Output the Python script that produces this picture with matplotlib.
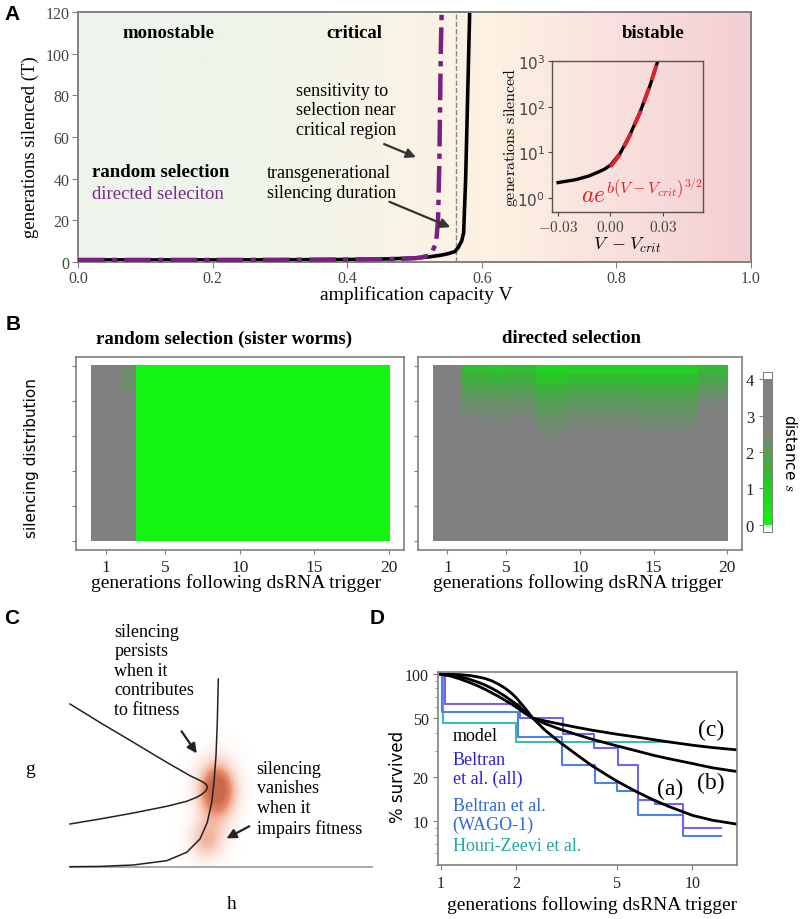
import numpy as np
import matplotlib
matplotlib.use("Agg")
import matplotlib.pyplot as plt
from matplotlib.colors import LinearSegmentedColormap, Normalize
import matplotlib.ticker as mticker
import matplotlib.cm as mcm

plt.rcParams['mathtext.fontset'] = 'cm'
plt.rcParams['axes.unicode_minus'] = True
SERIF = 'Liberation Serif'
SANS = 'DejaVu Sans'

# ======================= DATA =======================
# Panel A: generations silenced vs amplification capacity
V_random = [0.0, 0.1, 0.2, 0.3, 0.4, 0.45, 0.5, 0.52, 0.54, 0.55, 0.56, 0.565, 0.57, 0.573, 0.576, 0.579, 0.582, 0.584]
T_random = [1.0, 1.0, 1.0, 1.05, 1.2, 1.4, 1.9, 2.4, 3.3, 4.0, 5.0, 7.0, 10.0, 14.0, 40.0, 80.0, 120.0, 135.0]
V_directed = [0.0, 0.1, 0.2, 0.3, 0.4, 0.45, 0.48, 0.5, 0.51, 0.52, 0.527, 0.532, 0.535, 0.537, 0.539, 0.541]
T_directed = [1.0, 1.0, 1.0, 1.05, 1.2, 1.35, 1.5, 1.8, 2.2, 3.0, 5.5, 9.0, 20.0, 50.0, 100.0, 130.0]
V_crit = 0.561
regions = ["monostable", "critical", "bistable"]
region_x = [0.135, 0.41, 0.855]

# Panel A inset
dV_model = [-0.03, -0.02, -0.0125, -0.0075, -0.0035, 0.0, 0.0054, 0.011, 0.0169, 0.0226, 0.0271, 0.029]
T_model = [2.2, 2.54, 3.05, 3.66, 4.3, 5.3, 9.4, 23.6, 75.7, 287, 1000, 1500]
dV_fit = [0.0, 0.0054, 0.011, 0.0169, 0.0226, 0.0271, 0.029]
T_fit = [4.9, 9.0, 23.0, 75.0, 290.0, 1000.0, 1500.0]

# Panel B: distance s (rows: top -> bottom of distribution, cols: generations 1..20)
generations_ticks = [1, 5, 10, 15, 20]
random_cols_top = [4, 4, 2.3, 0, 0, 0, 0, 0, 0, 0, 0, 0, 0, 0, 0, 0, 0, 0, 0, 0]
random_cols_rest = [4, 4, 4, 0, 0, 0, 0, 0, 0, 0, 0, 0, 0, 0, 0, 0, 0, 0, 0, 0]
directed_top_rows = [
    [4, 4, 1.3, 1.3, 1.2, 1.3, 1.3, 0.9, 0.9, 1.0, 1.0, 1.0, 1.0, 1.0, 1.0, 1.0, 1.0, 1.0, 1.4, 1.4],
    [4, 4, 1.6, 1.6, 1.5, 1.6, 1.6, 1.2, 1.2, 1.35, 1.35, 1.35, 1.35, 1.35, 1.3, 1.3, 1.3, 1.3, 1.75, 1.75],
    [4, 4, 1.85, 1.85, 1.8, 1.85, 1.85, 1.5, 1.5, 1.65, 1.65, 1.65, 1.65, 1.65, 1.6, 1.6, 1.6, 1.6, 2.05, 2.05],
    [4, 4, 2.1, 2.1, 2.05, 2.1, 2.1, 1.75, 1.75, 1.9, 1.9, 1.9, 1.9, 1.9, 1.85, 1.85, 1.85, 1.85, 2.3, 2.3],
    [4, 4, 2.3, 2.3, 2.25, 2.3, 2.3, 1.95, 1.95, 2.1, 2.1, 2.1, 2.1, 2.1, 2.05, 2.05, 2.05, 2.05, 2.5, 2.5],
    [4, 4, 2.45, 2.45, 2.4, 2.45, 2.45, 2.15, 2.15, 2.3, 2.3, 2.3, 2.3, 2.3, 2.25, 2.25, 2.25, 2.25, 2.7, 2.7],
    [4, 4, 2.6, 2.6, 2.55, 2.6, 2.6, 2.3, 2.3, 2.45, 2.45, 2.45, 2.45, 2.45, 2.4, 2.4, 2.4, 2.4, 4, 4],
    [4, 4, 4, 4, 4, 4, 4, 2.45, 2.45, 2.6, 2.6, 2.6, 2.6, 2.6, 2.55, 2.55, 2.55, 2.55, 4, 4],
    [4, 4, 4, 4, 4, 4, 4, 2.6, 2.6, 4, 4, 4, 4, 4, 4, 4, 4, 4, 4, 4],
]
n_rows = 20
gray_value = 4.0

# Panel C: sketch in (h, g) units
fold_h = [0, 30, 63.3, 96.7, 120, 128, 133.3, 136.3, 137.3, 137, 135.5, 132, 126.7, 116.7, 96.7, 63.3, 30, 0]
fold_g = [163, 144.5, 124.7, 104.7, 91.3, 87.5, 84.7, 82.5, 80.5, 78.3, 75.8, 72.8, 69.7, 65.7, 60.7, 54, 48, 43]
nullcline_h = [148.3, 147.3, 146, 144, 141.7, 137.3, 130, 116.7, 96.7, 63.3, 30, 0]
nullcline_g = [188, 144.7, 111.3, 84.7, 64.7, 44.7, 28, 14.7, 6.3, 2, 0.6, 0.3]
axis_h = [0, 302]
axis_g = [0, 0]
blob_h = [147, 147, 137]
blob_g = [78, 76, 27]
blob_sh = [6, 13, 12]
blob_sg = [9, 20, 14]
blob_w = [0.6, 0.9, 0.4]

# Panel D: % survived vs generations (log-log)
gen_model = [1, 1.1, 1.2, 1.3, 1.4, 1.5, 1.6, 1.7, 1.8, 1.9, 2.0, 2.15, 2.33, 2.6, 3, 3.5, 4, 5, 6, 7, 8, 10, 12, 15]
model_a = [100, 99.8, 99.2, 98, 96, 93.5, 90, 85.5, 80.5, 75, 69, 59.5, 50, 41.5, 34, 28, 23.7, 18.7, 15.8, 13.9, 12.6, 10.9, 10.1, 9.5]
model_b = [100, 98.5, 96, 92.5, 88.5, 84.5, 80, 75.5, 71, 66.5, 62.5, 56, 50, 46, 42, 38.6, 36, 32.5, 30, 28, 26.6, 24.6, 23, 21.7]
model_c = [100, 97, 92.5, 88, 83.5, 79, 74.5, 70.5, 66.5, 63, 59.5, 54.5, 50, 48, 45.6, 43.3, 41.5, 39, 37.3, 35.8, 34.6, 32.8, 31.6, 30.5]
beltran_all_x = [1, 1.04, 2.07, 3.07, 4.06, 5.07, 6.09, 7.09, 9.18, 13.0]
beltran_all_y = [100, 63, 50, 39, 31.3, 24, 13.9, 13.0, 8.9, 8.9]
wago_x = [1, 1.01, 2.03, 3.05, 4.1, 5.0, 6.09, 9.18, 13.0]
wago_y = [100, 55.3, 37.4, 24.1, 18.1, 16, 11, 7.9, 7.9]
houri_x = [1, 1.02, 2.0, 8.0]
houri_y = [100, 46.4, 34.6, 34.6]

# ======================= FIGURE =======================
W, H = 800, 920
fig = plt.figure(figsize=(W / 100, H / 100), dpi=100)
fig.patch.set_facecolor('white')


def box(l, t, r, b):
    return [l / W, 1 - b / H, (r - l) / W, (b - t) / H]


def fp(px, py):
    return (px / W, 1 - py / H)


def ftext(px, py, s, **kw):
    x, y = fp(px, py)
    return fig.text(x, y, s, **kw)


def farrow(p_from, p_to, color='#222222', lw=1.6, ms=14):
    fig.add_artist(matplotlib.patches.FancyArrowPatch(
        fp(*p_from), fp(*p_to), transform=fig.transFigure,
        arrowstyle='-|>', mutation_scale=ms, color=color, lw=lw))


SPINE = '#808080'

# ---------------- Panel A ----------------
axA = fig.add_axes(box(78, 13, 751, 263))
bg = LinearSegmentedColormap.from_list('bg', [
    (0.0, '#eef4ec'), (0.25, '#eff4ea'), (0.45, '#f7f4e6'),
    (0.62, '#fdf1e2'), (0.8, '#f9e0dd'), (1.0, '#f4ced3')])
axA.imshow(np.linspace(0, 1, 512)[None, :], extent=(0, 1, 0, 120), aspect='auto',
           cmap=bg, zorder=0, origin='lower')
axA.axvline(V_crit, color='#888888', lw=1, ls='--', zorder=1)
axA.plot(V_random, T_random, color='black', lw=2.6, zorder=2, solid_capstyle='butt')
axA.plot(V_directed, T_directed, color='#7a1e80', lw=3.2, ls=(0, (6, 1.6, 1.2, 1.6)), zorder=3)
axA.set_xlim(0, 1)
axA.set_ylim(0, 120)
axA.set_xticks(np.arange(0, 1.01, 0.2))
axA.xaxis.set_major_formatter(mticker.FormatStrFormatter('%.1f'))
axA.set_yticks(np.arange(0, 121, 20))
for sp in axA.spines.values():
    sp.set_color(SPINE)
    sp.set_linewidth(1.4)
axA.tick_params(colors=SPINE, labelcolor='#444444', labelsize=11.5, length=4, pad=2)
for lab in axA.get_xticklabels() + axA.get_yticklabels():
    lab.set_family(SERIF)

for name, xr in zip(regions, region_x):
    axA.text(xr, 110.3, name, ha='center', va='center', fontsize=13.5,
             fontweight='bold', family=SERIF, color='black')
axA.text(0.021, 43.5, 'random selection', ha='left', va='center', fontsize=13.5,
         fontweight='bold', family=SERIF, color='black')
axA.text(0.021, 33.1, 'directed seleciton', ha='left', va='center', fontsize=13.5,
         family=SERIF, color='#7a2a8a')
axA.text(0.324, 73.0, 'sensitivity to\nselection near\ncritical region', ha='left',
         va='center', fontsize=13, family=SERIF, linespacing=1.2)
axA.text(0.281, 38.3, 'transgenerational\nsilencing duration', ha='left',
         va='center', fontsize=13, family=SERIF, linespacing=1.2)
axA.annotate('', xy=(0.506, 49.8), xytext=(0.451, 57.1),
             arrowprops=dict(arrowstyle='-|>', color='#333333', lw=1.6, mutation_scale=14))
axA.annotate('', xy=(0.557, 16.2), xytext=(0.459, 29.4),
             arrowprops=dict(arrowstyle='-|>', color='#333333', lw=1.6, mutation_scale=14))

ftext(30, 147, 'generations silenced (T)', rotation=90, ha='center', va='center',
      fontsize=13.5, family=SERIF)
ftext(416, 295, 'amplification capacity V', ha='center', va='center',
      fontsize=14, family=SERIF)

# inset
axI = fig.add_axes(box(552, 62, 703, 213))
axI.patch.set_alpha(0)
axI.set_yscale('log')
axI.plot(dV_model, T_model, color='black', lw=2.4)
axI.plot(dV_fit, T_fit, color='#e0202a', lw=2.8, ls=(0, (4, 2.2)))
axI.set_xlim(-0.0335, 0.053)
axI.set_ylim(0.5, 1000)
axI.set_xticks([-0.03, 0.0, 0.03])
axI.set_xticklabels([r'$-0.03$', r'$0.00$', r'$0.03$'])
axI.set_yticks([1, 10, 100, 1000])
axI.yaxis.set_major_formatter(mticker.LogFormatterMathtext())
axI.yaxis.set_minor_locator(mticker.NullLocator())
axI.tick_params(labelsize=11, colors='#444444', length=3, pad=2)
for sp in axI.spines.values():
    sp.set_color('#555555')
    sp.set_linewidth(1.0)
ftext(511, 137, r'$\mathrm{generations\ silenced}$', rotation=90, ha='center',
      va='center', fontsize=11.5)
ftext(627, 245, r'$V\ -V_{crit}$', ha='center', va='center', fontsize=13)
ftext(581, 203, r'$ae^{b(V-V_{crit})^{3/2}}$', ha='left', va='baseline',
      fontsize=17, color='#e0202a')

# ---------------- Panel B ----------------
cmapB = LinearSegmentedColormap.from_list('gs', [
    (0.0, '#11f511'), (0.25, '#22d022'), (0.4, '#3fae3f'),
    (0.55, '#669466'), (0.65, '#808080'), (1.0, '#808080')])
cmapB.set_under('white')
cmapB.set_over('white')
normB = Normalize(0, 4)

rand_mat = np.array([random_cols_top] * 3 + [random_cols_rest] * (n_rows - 3), dtype=float)
dir_mat = np.full((n_rows, 20), gray_value)
dir_mat[:len(directed_top_rows)] = np.array(directed_top_rows, dtype=float)

for (l, r), mat in zip([(75.7, 404), (418, 742)], [rand_mat, dir_mat]):
    ax = fig.add_axes(box(l, 358, r, 550.7))
    ax.imshow(mat, extent=(0, 20, 0, 5), origin='upper', aspect='auto',
              cmap=cmapB, norm=normB, interpolation='nearest')
    ax.set_xlim(-1, 21)
    ax.set_ylim(-0.25, 5.25)
    ax.set_xticks(generations_ticks)
    ax.set_yticks(np.arange(0, 6))
    ax.set_yticklabels([])
    for sp in ax.spines.values():
        sp.set_color(SPINE)
        sp.set_linewidth(1.2)
    ax.tick_params(colors=SPINE, labelcolor='#222222', labelsize=12.5, length=3)
    for lab in ax.get_xticklabels():
        lab.set_family(SERIF)

ftext(224, 339, 'random selection (sister worms)', ha='center', va='center',
      fontsize=13.5, fontweight='bold', family=SERIF)
ftext(571, 339, 'directed selection', ha='center', va='center',
      fontsize=13.5, fontweight='bold', family=SERIF)
ftext(236, 583, 'generations following dsRNA trigger', ha='center', va='center',
      fontsize=14, family=SERIF)
ftext(578, 583, 'generations following dsRNA trigger', ha='center', va='center',
      fontsize=14, family=SERIF)
ftext(32, 458, 'silencing distribution', rotation=90, ha='center', va='center',
      fontsize=11, family=SANS)

cax = fig.add_axes(box(763, 373, 771.7, 533))
cb = fig.colorbar(mcm.ScalarMappable(norm=normB, cmap=cmapB), cax=cax,
                  extend='both', extendrect=True, extendfrac=0.048)
cb.set_ticks([0, 1, 2, 3, 4])
cb.outline.set_edgecolor(SPINE)
cax.yaxis.set_ticks_position('left')
cax.tick_params(labelsize=12, colors=SPINE, labelcolor='#222222', length=3)
for lab in cax.get_yticklabels():
    lab.set_family(SERIF)
ftext(790, 453, r'distance $s$', rotation=270, ha='center', va='center',
      fontsize=11, family=SANS)

# ---------------- Panel C ----------------
axC = fig.add_axes(box(70, 675, 372, 868))
axC.set_xlim(0, 302)
axC.set_ylim(0, 193)
axC.axis('off')
hh, gg = np.meshgrid(np.linspace(90, 205, 340), np.linspace(0, 140, 340))
dens = np.zeros_like(hh)
for cx, cy, sx, sy, w in zip(blob_h, blob_g, blob_sh, blob_sg, blob_w):
    dens += w * np.exp(-0.5 * (((hh - cx) / sx) ** 2 + ((gg - cy) / sy) ** 2))
dens = np.clip(dens, 0, 1)
blob_cmap = LinearSegmentedColormap.from_list('blob', ['#f4ad92', '#e97a52', '#bf4e2c'])
rgba = blob_cmap(dens)
rgba[..., 3] = np.clip(dens * 1.4, 0, 0.85)
axC.imshow(rgba, extent=(90, 205, 0, 140), origin='lower', aspect='auto', zorder=1)
axC.plot(axis_h, axis_g, color='#999999', lw=1.2, zorder=2, clip_on=False)
axC.plot(fold_h, fold_g, color='#222222', lw=1.1, zorder=3, clip_on=False)
axC.plot(nullcline_h, nullcline_g, color='#222222', lw=1.1, zorder=3, clip_on=False)

ftext(114.3, 671.3, 'silencing\npersists\nwhen it\ncontributes\nto fitness', ha='left',
      va='center', fontsize=13, family=SERIF, linespacing=1.2)
ftext(256.7, 799.2, 'silencing\nvanishes\nwhen it\nimpairs fitness', ha='left',
      va='center', fontsize=13, family=SERIF, linespacing=1.2)
farrow((180, 730), (198.3, 756.7))
farrow((251.7, 826), (224, 840.7))
ftext(30, 770, 'g', ha='center', va='center', fontsize=14, family=SERIF)
ftext(232, 905, 'h', ha='center', va='center', fontsize=14, family=SERIF)

# ---------------- Panel D ----------------
axD = fig.add_axes(box(438.3, 673.3, 736.7, 866))
axD.set_xscale('log')
axD.set_yscale('log')
axD.step(houri_x, houri_y, where='post', color='#3cb8b8', lw=1.5)
axD.step(wago_x, wago_y, where='post', color='#4c82e6', lw=1.5)
axD.step(beltran_all_x, beltran_all_y, where='post', color='#7a62e6', lw=1.5)
for ys in (model_a, model_b, model_c):
    axD.plot(gen_model, ys, color='black', lw=2.0)
axD.set_xlim(0.98, 15)
axD.set_ylim(5, 103)
axD.set_xticks([1, 2, 5, 10])
axD.set_yticks([10, 20, 50, 100])
axD.xaxis.set_major_formatter(mticker.FormatStrFormatter('%d'))
axD.yaxis.set_major_formatter(mticker.FormatStrFormatter('%d'))
axD.xaxis.set_minor_locator(mticker.NullLocator())
axD.yaxis.set_minor_formatter(mticker.NullFormatter())
for sp in axD.spines.values():
    sp.set_color(SPINE)
    sp.set_linewidth(1.2)
axD.tick_params(which='both', colors=SPINE, labelcolor='#222222', labelsize=11.5)
axD.tick_params(which='minor', length=2)
for lab in axD.get_xticklabels() + axD.get_yticklabels():
    lab.set_family(SERIF)

ftext(452.7, 736.7, 'model', ha='left', va='center', fontsize=13, family=SERIF, color='black')
ftext(452.7, 770, 'Beltran\net al. (all)', ha='left', va='center', fontsize=13,
      family=SERIF, color='#2b22d6', linespacing=1.2)
ftext(452.7, 816, 'Beltran et al.\n(WAGO-1)', ha='left', va='center', fontsize=13,
      family=SERIF, color='#2f6ad8', linespacing=1.2)
ftext(452.7, 846.7, 'Houri-Zeevi et al.', ha='left', va='center', fontsize=13,
      family=SERIF, color='#22a8a0')
ftext(711, 730.7, '(c)', ha='center', va='center', fontsize=17, family=SERIF)
ftext(711, 783.3, '(b)', ha='center', va='center', fontsize=17, family=SERIF)
ftext(670, 789.3, '(a)', ha='center', va='center', fontsize=17, family=SERIF)
ftext(398.3, 776.7, '% survived', rotation=90, ha='center', va='center',
      fontsize=12, family=SANS)
ftext(591.7, 905, 'generations following dsRNA trigger', ha='center', va='center',
      fontsize=14, family=SERIF)

# panel letters
for letter, px, py in [('A', 12.5, 14.5), ('B', 13, 325), ('C', 11.7, 619), ('D', 377.5, 619)]:
    ftext(px, py, letter, ha='center', va='center', fontsize=15, fontweight='bold',
          family='Liberation Sans')

fig.savefig('out.png', dpi=100)
